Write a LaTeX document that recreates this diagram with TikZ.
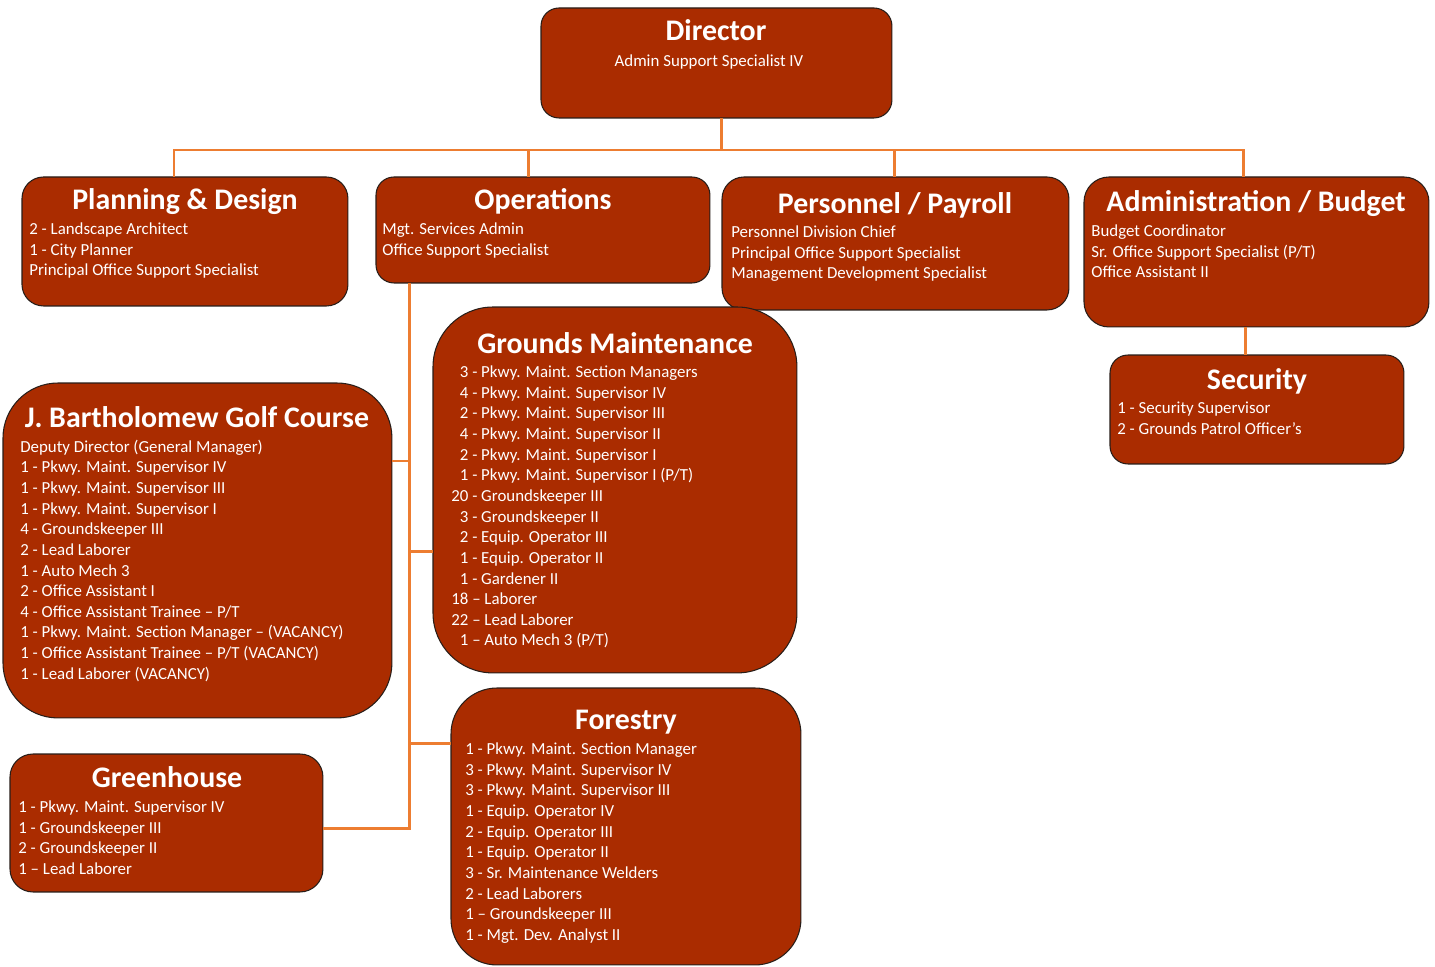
\documentclass[tikz,border=0pt]{standalone}
\usepackage{fontspec}
\setmainfont{Carlito}
\usetikzlibrary{positioning}
\definecolor{unitRed}{RGB}{170,44,0}
\definecolor{linkOrange}{RGB}{237,125,49}
\definecolor{edgeDark}{RGB}{40,30,25}

\begin{document}
\begin{tikzpicture}[
  x=0.02cm, y=-0.02cm,
  unit/.style={draw=edgeDark, line width=0.6pt, fill=unitRed, inner sep=0pt, outer sep=0pt, anchor=north west},
  title/.style={text=white, font=\fontsize{17}{20}\selectfont\bfseries, anchor=base, inner sep=0pt},
  staff/.style={text=white, font=\fontsize{9.6}{11.75}\selectfont, align=left, anchor=north west, inner sep=0pt},
  link/.style={draw=linkOrange, line width=1.7pt},
]
% Canvas = 1435 x 966 px, 1px = 0.02cm
\useasboundingbox (0,0) rectangle (1435,966);
\fill[white] (0,0) rectangle (1435,966);

% Top row
\node[unit, minimum width=7.02cm, minimum height=2.20cm, rounded corners=0.36cm] (dir) at (541,8) {};
\node[title] (dirT) at (716,41) {Director};
\node[staff, anchor=north, align=center] (dirS) at (709,54) {Admin Support Specialist IV};

% Second row
\node[unit, minimum width=6.52cm, minimum height=2.58cm, rounded corners=0.43cm] (plan) at (22,177) {};
\node[title] (planT) at (185,210) {Planning \& Design};
\node[staff] (planS) at (29,222.5) {2 - Landscape Architect\\1 - City Planner\\Principal Office Support Specialist};

\node[unit, minimum width=6.68cm, minimum height=2.12cm, rounded corners=0.36cm] (ops) at (376,177) {};
\node[title] (opsT) at (543,210) {Operations};
\node[staff] (opsS) at (382,222.5) {Mgt. Services Admin\\Office Support Specialist};

\node[unit, minimum width=6.94cm, minimum height=2.66cm, rounded corners=0.44cm] (pers) at (722,177) {};
\node[title] (persT) at (895,214) {Personnel / Payroll};
\node[staff] (persS) at (731,225.5) {Personnel Division Chief\\Principal Office Support Specialist\\Management Development Specialist};

\node[unit, minimum width=6.90cm, minimum height=3.00cm, rounded corners=0.50cm] (admin) at (1084,177) {};
\node[title] (adminT) at (1256,212) {Administration / Budget};
\node[staff] (adminS) at (1091,224.5) {Budget Coordinator\\Sr. Office Support Specialist (P/T)\\Office Assistant II};

\node[unit, minimum width=5.88cm, minimum height=2.18cm, rounded corners=0.36cm] (sec) at (1110,355) {};
\node[title] (secT) at (1257,389) {Security};
\node[staff] (secS) at (1117,401.5) {1 - Security Supervisor\\2 - Grounds Patrol Officer's};

% Operations branches
\node[unit, minimum width=7.78cm, minimum height=6.70cm, rounded corners=1.1cm] (golf) at (3,383) {};
\node[title] (golfT) at (197,427) {J. Bartholomew Golf Course};
\node[staff] (golfS) at (20,439.5) {Deputy Director (General Manager)\\
1 - Pkwy. Maint. Supervisor IV\\
1 - Pkwy. Maint. Supervisor III\\
1 - Pkwy. Maint. Supervisor I\\
4 - Groundskeeper III\\
2 - Lead Laborer\\
1 - Auto Mech 3\\
2 - Office Assistant I\\
4 - Office Assistant Trainee -- P/T\\
1 - Pkwy. Maint. Section Manager -- (VACANCY)\\
1 - Office Assistant Trainee -- P/T (VACANCY)\\
1 - Lead Laborer (VACANCY)};

\node[unit, minimum width=7.28cm, minimum height=7.32cm, rounded corners=1.2cm] (grounds) at (433,307) {};
\node[title] (groundsT) at (615,353) {Grounds Maintenance};
\node[staff] (groundsS) at (451,365.5) {\hphantom{0}3 - Pkwy. Maint. Section Managers\\
\hphantom{0}4 - Pkwy. Maint. Supervisor IV\\
\hphantom{0}2 - Pkwy. Maint. Supervisor III\\
\hphantom{0}4 - Pkwy. Maint. Supervisor II\\
\hphantom{0}2 - Pkwy. Maint. Supervisor I\\
\hphantom{0}1 - Pkwy. Maint. Supervisor I (P/T)\\
20 - Groundskeeper III\\
\hphantom{0}3 - Groundskeeper II\\
\hphantom{0}2 - Equip. Operator III\\
\hphantom{0}1 - Equip. Operator II\\
\hphantom{0}1 - Gardener II\\
18 -- Laborer\\
22 -- Lead Laborer\\
\hphantom{0}1 -- Auto Mech 3 (P/T)};

\node[unit, minimum width=7.00cm, minimum height=5.54cm, rounded corners=0.92cm] (forestry) at (451,688) {};
\node[title] (forestryT) at (626,729) {Forestry};
\node[staff] (forestryS) at (465,742.5) {1 - Pkwy. Maint. Section Manager\\
3 - Pkwy. Maint. Supervisor IV\\
3 - Pkwy. Maint. Supervisor III\\
1 - Equip. Operator IV\\
2 - Equip. Operator III\\
1 - Equip. Operator II\\
3 - Sr. Maintenance Welders\\
2 - Lead Laborers\\
1 -- Groundskeeper III\\
1 - Mgt. Dev. Analyst II};

\node[unit, minimum width=6.26cm, minimum height=2.76cm, rounded corners=0.46cm] (green) at (10,754) {};
\node[title] (greenT) at (167,787) {Greenhouse};
\node[staff] (greenS) at (18,800.5) {1 - Pkwy. Maint. Supervisor IV\\
1 - Groundskeeper III\\
2 - Groundskeeper II\\
1 -- Lead Laborer};

% Connectors
\coordinate (hub) at (721,150);
\coordinate (plan-drop) at (174,150);
\coordinate (ops-drop) at (528,150);
\coordinate (pers-drop) at (894,150);
\coordinate (admin-drop) at (1243,150);
\draw[link] (dir.south -| hub) -- (hub);
\draw[link] (plan.north -| plan-drop) -- (plan-drop) -- (admin-drop) -- (admin.north -| admin-drop);
\foreach \n in {ops, pers}
  \draw[link] (\n-drop) -- (\n.north -| \n-drop);

\coordinate (sec-link) at (1245,340);
\draw[link] (admin.south -| sec-link) -- (sec.north -| sec-link);

\coordinate (golf-tap) at (409,461);
\coordinate (grounds-tap) at (409,551);
\coordinate (forestry-tap) at (409,743);
\coordinate (green-tap) at (409,828);
\draw[link] (ops.south -| green-tap) -- (green-tap) -- (green.east |- green-tap);
\draw[link] (golf-tap) -- (golf.east |- golf-tap);
\foreach \n in {grounds, forestry}
  \draw[link] (\n-tap) -- (\n.west |- \n-tap);

\end{tikzpicture}
\end{document}
